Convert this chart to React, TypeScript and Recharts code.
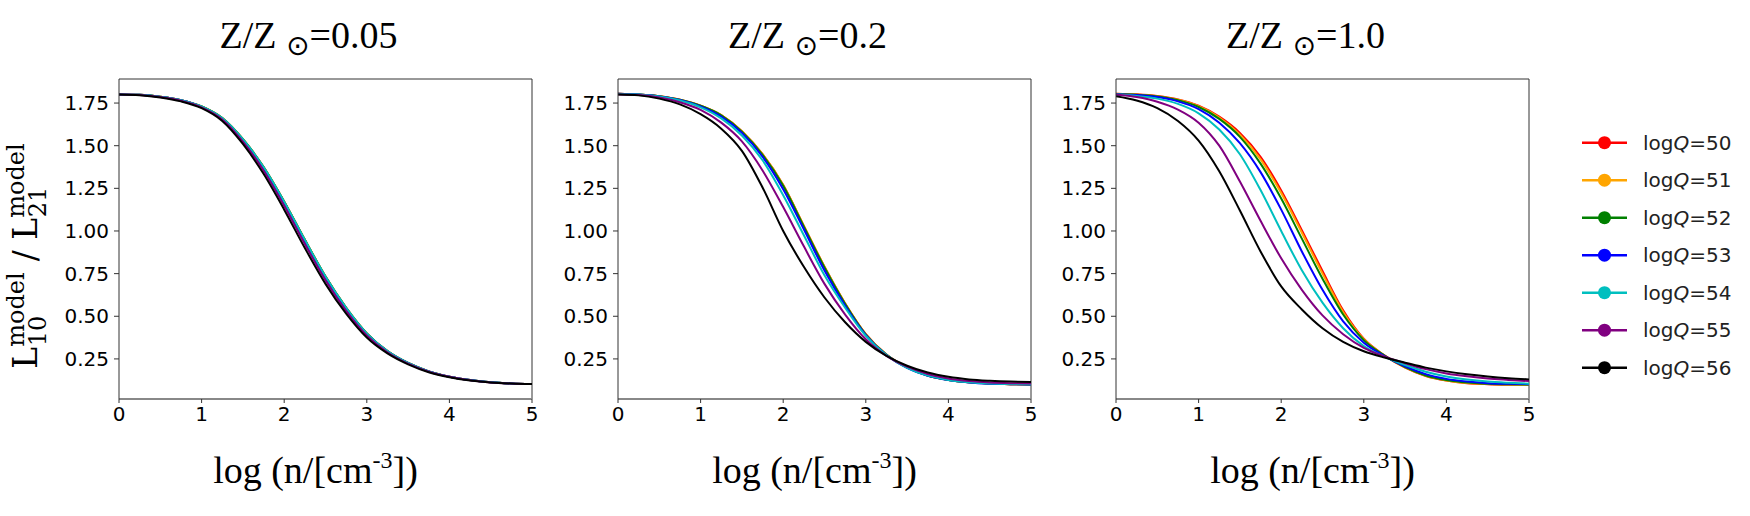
import { LineChart, Line, XAxis, YAxis, ReferenceLine } from "recharts";

// log n grid shared by every curve
const logN = [0, 0.25, 0.5, 0.75, 1, 1.25, 1.5, 1.75, 2, 2.25, 2.5, 2.75, 3, 3.25, 3.5, 3.75, 4, 4.25, 4.5, 4.75, 5];

const qValues = [50, 51, 52, 53, 54, 55, 56];
const qColors = ["#ff0000", "#ffa500", "#008000", "#0000ff", "#00bfbf", "#800080", "#000000"];

// Z/Zsun = 0.05
const z005q50 = [1.8, 1.798, 1.787, 1.767, 1.73, 1.662, 1.538, 1.375, 1.172, 0.948, 0.733, 0.55, 0.4, 0.296, 0.226, 0.177, 0.146, 0.126, 0.113, 0.106, 0.103];
const z005q51 = [1.8, 1.798, 1.787, 1.767, 1.73, 1.662, 1.538, 1.375, 1.172, 0.948, 0.733, 0.55, 0.4, 0.296, 0.226, 0.177, 0.146, 0.126, 0.113, 0.106, 0.103];
const z005q52 = [1.8, 1.798, 1.787, 1.767, 1.73, 1.662, 1.538, 1.375, 1.172, 0.948, 0.733, 0.55, 0.4, 0.296, 0.226, 0.177, 0.146, 0.126, 0.113, 0.106, 0.103];
const z005q53 = [1.8, 1.798, 1.786, 1.766, 1.728, 1.658, 1.531, 1.366, 1.162, 0.938, 0.725, 0.544, 0.396, 0.294, 0.225, 0.177, 0.146, 0.126, 0.113, 0.106, 0.103];
const z005q54 = [1.8, 1.798, 1.787, 1.767, 1.73, 1.662, 1.538, 1.375, 1.172, 0.948, 0.733, 0.55, 0.4, 0.296, 0.226, 0.177, 0.146, 0.126, 0.113, 0.106, 0.103];
const z005q55 = [1.8, 1.797, 1.785, 1.764, 1.725, 1.654, 1.524, 1.355, 1.148, 0.924, 0.711, 0.532, 0.388, 0.289, 0.222, 0.175, 0.145, 0.125, 0.112, 0.106, 0.103];
const z005q56 = [1.8, 1.796, 1.783, 1.76, 1.72, 1.645, 1.51, 1.335, 1.125, 0.9, 0.69, 0.515, 0.375, 0.282, 0.218, 0.172, 0.143, 0.124, 0.112, 0.106, 0.103];

// Z/Zsun = 0.2
const z02q50 = [1.805, 1.8, 1.79, 1.77, 1.735, 1.68, 1.585, 1.45, 1.27, 1.03, 0.79, 0.575, 0.395, 0.275, 0.2, 0.153, 0.127, 0.113, 0.106, 0.102, 0.1];
const z02q51 = [1.805, 1.8, 1.79, 1.77, 1.735, 1.68, 1.585, 1.45, 1.27, 1.03, 0.79, 0.575, 0.395, 0.275, 0.2, 0.153, 0.127, 0.113, 0.106, 0.102, 0.1];
const z02q52 = [1.805, 1.8, 1.79, 1.769, 1.734, 1.678, 1.582, 1.446, 1.265, 1.025, 0.786, 0.572, 0.393, 0.274, 0.2, 0.153, 0.127, 0.113, 0.106, 0.102, 0.1];
const z02q53 = [1.804, 1.8, 1.789, 1.768, 1.73, 1.67, 1.575, 1.435, 1.245, 1.01, 0.768, 0.562, 0.39, 0.273, 0.197, 0.151, 0.126, 0.112, 0.105, 0.102, 0.1];
const z02q54 = [1.803, 1.8, 1.788, 1.765, 1.725, 1.66, 1.56, 1.415, 1.21, 0.975, 0.74, 0.55, 0.385, 0.272, 0.198, 0.152, 0.127, 0.113, 0.106, 0.103, 0.101];
const z02q55 = [1.8, 1.797, 1.783, 1.755, 1.71, 1.635, 1.525, 1.355, 1.14, 0.91, 0.69, 0.51, 0.365, 0.268, 0.205, 0.162, 0.135, 0.12, 0.112, 0.108, 0.106];
const z02q56 = [1.8, 1.795, 1.776, 1.742, 1.685, 1.6, 1.47, 1.255, 1.0, 0.79, 0.61, 0.465, 0.35, 0.268, 0.21, 0.17, 0.145, 0.13, 0.122, 0.117, 0.115];

// Z/Zsun = 1.0
const z10q50 = [1.805, 1.801, 1.791, 1.771, 1.734, 1.67, 1.575, 1.435, 1.238, 1.005, 0.765, 0.535, 0.368, 0.271, 0.199, 0.15, 0.123, 0.108, 0.102, 0.099, 0.098];
const z10q51 = [1.804, 1.8, 1.79, 1.769, 1.731, 1.665, 1.565, 1.42, 1.222, 0.99, 0.75, 0.525, 0.365, 0.27, 0.2, 0.151, 0.124, 0.109, 0.103, 0.1, 0.099];
const z10q52 = [1.803, 1.799, 1.789, 1.767, 1.727, 1.657, 1.552, 1.395, 1.19, 0.955, 0.72, 0.51, 0.36, 0.27, 0.202, 0.153, 0.126, 0.111, 0.104, 0.101, 0.1];
const z10q53 = [1.802, 1.797, 1.785, 1.76, 1.715, 1.635, 1.515, 1.345, 1.125, 0.88, 0.655, 0.47, 0.345, 0.267, 0.207, 0.161, 0.133, 0.117, 0.108, 0.104, 0.102];
const z10q54 = [1.8, 1.792, 1.776, 1.745, 1.69, 1.595, 1.45, 1.24, 1.0, 0.77, 0.58, 0.43, 0.325, 0.262, 0.214, 0.175, 0.147, 0.129, 0.117, 0.11, 0.105];
const z10q55 = [1.8, 1.785, 1.758, 1.712, 1.635, 1.5, 1.29, 1.06, 0.84, 0.655, 0.505, 0.395, 0.315, 0.265, 0.225, 0.19, 0.165, 0.148, 0.135, 0.127, 0.12];
const z10q56 = [1.79, 1.765, 1.72, 1.645, 1.53, 1.35, 1.12, 0.88, 0.675, 0.54, 0.43, 0.35, 0.295, 0.258, 0.228, 0.199, 0.177, 0.16, 0.147, 0.137, 0.13];

const titles = ["0.05", "0.2", "1.0"];
const xTicks = [0, 1, 2, 3, 4, 5];
const yTicks = [0.25, 0.5, 0.75, 1.0, 1.25, 1.5, 1.75];

const Y_DOMAIN: [number, number] = [0.015, 1.891];
const AXIS_W = 70;
const PLOT_W = 413;
const PLOT_TOP = 79;
const PLOT_BOTTOM = 399;
const H = 516;
const XAXIS_H = 30;
const panelLefts = [119, 618, 1116];

const panels = [
  [z005q50, z005q51, z005q52, z005q53, z005q54, z005q55, z005q56],
  [z02q50, z02q51, z02q52, z02q53, z02q54, z02q55, z02q56],
  [z10q50, z10q51, z10q52, z10q53, z10q54, z10q55, z10q56],
];

function toRows(series: number[][]) {
  return logN.map((x, i) => {
    const row: Record<string, number> = { x };
    series.forEach((s, k) => {
      row[`q${qValues[k]}`] = s[i];
    });
    return row;
  });
}

const tickFont = { fontSize: 20, fill: "#000", fontFamily: "DejaVu Sans" };

function Panel({ left, series }: { left: number; series: number[][] }) {
  const data = toRows(series);
  return (
    <div style={{ position: "absolute", left: left - AXIS_W, top: 0 }}>
      <LineChart
        width={AXIS_W + PLOT_W + 10}
        height={H}
        data={data}
        margin={{ top: PLOT_TOP, right: 10, bottom: H - PLOT_BOTTOM - XAXIS_H, left: 0 }}
      >
        <XAxis
          type="number"
          dataKey="x"
          domain={[0, 5]}
          ticks={xTicks}
          interval={0}
          height={XAXIS_H}
          tickSize={4}
          tickMargin={4}
          axisLine={{ stroke: "#888", strokeWidth: 2 }}
          tickLine={{ stroke: "#333" }}
          tick={tickFont}
          allowDataOverflow
        />
        <YAxis
          type="number"
          domain={Y_DOMAIN}
          ticks={yTicks}
          interval={0}
          width={AXIS_W}
          tickSize={5}
          tickMargin={5}
          axisLine={{ stroke: "#333" }}
          tickLine={{ stroke: "#333" }}
          tick={tickFont}
          tickFormatter={(v: number) => v.toFixed(2)}
          allowDataOverflow
        />
        <ReferenceLine y={Y_DOMAIN[1]} stroke="#333" />
        <ReferenceLine x={5} stroke="#333" />
        {series.map((_, k) => (
          <Line
            key={k}
            dataKey={`q${qValues[k]}`}
            type="monotone"
            stroke={qColors[k]}
            strokeWidth={2}
            dot={false}
            isAnimationActive={false}
          />
        ))}
      </LineChart>
    </div>
  );
}

export default function App() {
  const serif = "Liberation Serif, Times New Roman, serif";
  return (
    <div style={{ position: "absolute", left: 0, top: 0, width: 1750, height: H, background: "#fff" }}>
      {panels.map((series, p) => (
        <Panel key={p} left={panelLefts[p]} series={series} />
      ))}
      <svg
        width={1750}
        height={H}
        style={{ position: "absolute", left: 0, top: 0, pointerEvents: "none", whiteSpace: "pre" }}
      >
        {titles.map((t, p) => {
          const cx = panelLefts[p] + PLOT_W / 2;
          return (
            <g key={p}>
              <text x={cx - 17} y={48} textAnchor="middle" fontFamily={serif} fontSize={38} fill="#000">
                {"Z/Z "}
                <tspan fontFamily="DejaVu Sans" fontSize={28} dy={7}>
                  ⊙
                </tspan>
                <tspan dy={-7}>{`=${t}`}</tspan>
              </text>
              <text x={cx - 10} y={483} textAnchor="middle" fontFamily={serif} fontSize={38} fill="#000">
                {"log (n/[cm"}
                <tspan fontSize={24} dy={-15}>
                  -3
                </tspan>
                <tspan dy={15}>])</tspan>
              </text>
            </g>
          );
        })}
        {/* y label, stacked sub/superscripts */}
        <text
          transform="translate(37,256) rotate(-90)"
          textAnchor="middle"
          fontFamily="DejaVu Serif"
          fontSize={33}
          fill="#000"
        >
          L
          <tspan fontSize={24} dy={-13}>
            model
          </tspan>
          <tspan fontSize={24} dx={-74} dy={22}>
            10
          </tspan>
          <tspan dx={44} dy={-9}>
            {" / L"}
          </tspan>
          <tspan fontSize={24} dy={-13}>
            model
          </tspan>
          <tspan fontSize={24} dx={-74} dy={22}>
            21
          </tspan>
          <tspan dx={44} dy={-9}>
            {""}
          </tspan>
        </text>
        {/* legend */}
        {qValues.map((q, i) => {
          const y = 142.7 + i * 37.5;
          return (
            <g key={q}>
              <line x1={1582} x2={1627} y1={y} y2={y} stroke={qColors[i]} strokeWidth={2.5} />
              <circle cx={1604.5} cy={y} r={6.5} fill={qColors[i]} />
              <text x={1643} y={y + 7} fontFamily="DejaVu Sans" fontSize={20} fill="#222">
                log
                <tspan fontStyle="italic">Q</tspan>
                {`=${q}`}
              </text>
            </g>
          );
        })}
      </svg>
    </div>
  );
}
